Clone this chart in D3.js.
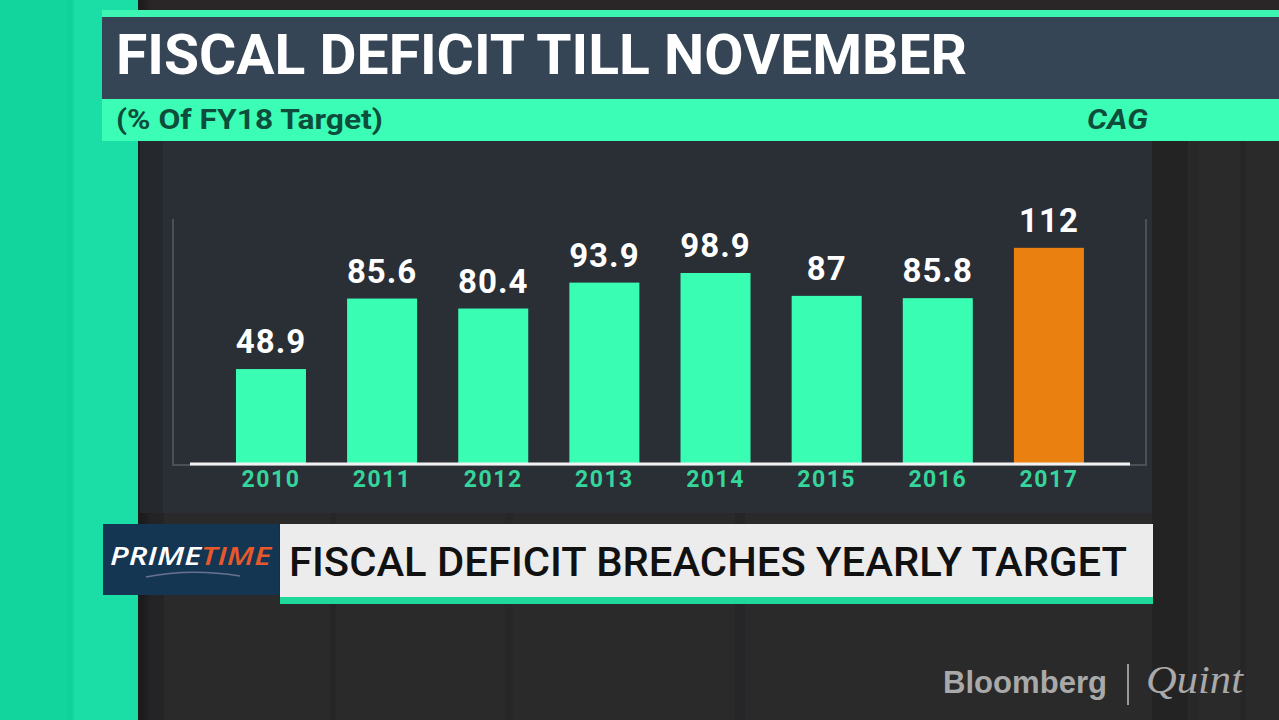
<!DOCTYPE html>
<html>
<head>
<meta charset="utf-8">
<script src="https://cdn.jsdelivr.net/npm/d3@7"></script>
<style>
  html, body { margin: 0; padding: 0; background: #2a2a2b; overflow: hidden; }
  svg { display: block; }
</style>
</head>
<body>
<div id="canvas"></div>
<script>
// chart data
let years = ["2010", "2011", "2012", "2013", "2014", "2015", "2016", "2017"];
let values = [48.9, 85.6, 80.4, 93.9, 98.9, 87, 85.8, 112];
let valueLabels = ["48.9", "85.6", "80.4", "93.9", "98.9", "87", "85.8", "112"];
let highlightYear = "2017";

let title = "FISCAL DEFICIT TILL NOVEMBER";
let subtitle = "(% Of FY18 Target)";
let source = "CAG";
let tickerText = "FISCAL DEFICIT BREACHES YEARLY TARGET";

const W = 1279, H = 720;
let svg = d3.select("#canvas").append("svg")
    .attr("width", W)
    .attr("height", H);

/* background: studio wall + green strip */
svg.append("rect").attr("width", W).attr("height", H).attr("fill", "#2a2a2b");

// faint vertical stripes of the wall
let stripes = [[140, 24, "#242427"], [330, 6, "#262628"], [505, 8, "#27272a"], [735, 10, "#262628"],
    [1152, 36, "#232324"], [1190, 8, "#282829"], [1240, 6, "#262627"]];
svg.selectAll("rect.stripe")
    .data(stripes)
    .join("rect")
    .attr("class", "stripe")
    .attr("x", d => d[0]).attr("y", 0)
    .attr("width", d => d[1]).attr("height", H)
    .attr("fill", d => d[2]);

// top strip above the title is a touch warmer
svg.append("rect").attr("x", 140).attr("y", 0).attr("width", W - 140).attr("height", 11).attr("fill", "#2a2526");

let defs = svg.append("defs");
let shade = defs.append("linearGradient").attr("id", "shade");
shade.append("stop").attr("offset", "0%").attr("stop-color", "#000").attr("stop-opacity", 0.35);
shade.append("stop").attr("offset", "100%").attr("stop-color", "#000").attr("stop-opacity", 0);

svg.append("rect").attr("x", 0).attr("y", 0).attr("width", 72).attr("height", H).attr("fill", "#12d59d");
svg.append("rect").attr("x", 72).attr("y", 0).attr("width", 66).attr("height", H).attr("fill", "#1bdea6");
svg.append("rect").attr("x", 66).attr("y", 0).attr("width", 8).attr("height", H).attr("fill", "#10cf97").attr("opacity", 0.6);
svg.append("rect").attr("x", 138).attr("y", 0).attr("width", 14).attr("height", H).attr("fill", "url(#shade)");

/* chart panel */
svg.append("rect").attr("x", 140).attr("y", 141).attr("width", 1012).attr("height", 372).attr("fill", "#2a2e35");
svg.append("rect").attr("x", 140).attr("y", 141).attr("width", 23).attr("height", 372).attr("fill", "#25282d");

/* title block */
svg.append("rect").attr("x", 102).attr("y", 10).attr("width", W - 102).attr("height", 8).attr("fill", "#3cf5b2");
svg.append("rect").attr("x", 102).attr("y", 17).attr("width", W - 102).attr("height", 82).attr("fill", "#354555");
svg.append("rect").attr("x", 102).attr("y", 99).attr("width", W - 102).attr("height", 42).attr("fill", "#3cfdb5");

svg.append("text")
    .attr("x", 116).attr("y", 74)
    .attr("font-family", "Roboto, 'Noto Sans', sans-serif")
    .attr("font-weight", 700)
    .attr("font-size", 55)
    .attr("fill", "#ffffff")
    .attr("textLength", 851)
    .attr("lengthAdjust", "spacingAndGlyphs")
    .text(title);

svg.append("text")
    .attr("x", 116).attr("y", 129)
    .attr("font-family", "Roboto, sans-serif")
    .attr("font-weight", 700)
    .attr("font-size", 28)
    .attr("fill", "#0e4d3b")
    .attr("textLength", 267)
    .attr("lengthAdjust", "spacingAndGlyphs")
    .text(subtitle);

svg.append("text")
    .attr("x", 1087).attr("y", 129)
    .attr("font-family", "Roboto, sans-serif")
    .attr("font-weight", 700)
    .attr("font-style", "italic")
    .attr("font-size", 27)
    .attr("fill", "#0e4d3b")
    .attr("textLength", 61)
    .attr("lengthAdjust", "spacingAndGlyphs")
    .text(source);

/* bar chart */
let x = d3.scaleBand()
    .domain(years)
    .range([215.4, 1104.5])
    .paddingInner(0.37)
    .paddingOuter(0.185);

let y = d3.scaleLinear()
    .domain([0, 127])
    .range([463, 219]);

let chart = svg.append("g");

// faint grey frame
chart.append("path")
    .attr("d", `M173,${y(127)}V${y(0) + 2}H1146V${y(127)}`)
    .attr("fill", "none")
    .attr("stroke", "#4a5058")
    .attr("stroke-width", 2);

chart.selectAll("rect.bar")
    .data(values)
    .join("rect")
    .attr("class", "bar")
    .attr("x", (d, i) => x(years[i]))
    .attr("y", d => y(d))
    .attr("width", x.bandwidth())
    .attr("height", d => y(0) - y(d))
    .attr("fill", (d, i) => years[i] === highlightYear ? "#ea800f" : "#3afdb4");

chart.selectAll("text.val")
    .data(values)
    .join("text")
    .attr("class", "val")
    .attr("x", (d, i) => x(years[i]) + x.bandwidth() / 2)
    .attr("y", d => y(d) - 16)
    .attr("text-anchor", "middle")
    .attr("font-family", "Roboto, sans-serif")
    .attr("font-weight", 700)
    .attr("font-size", 33)
    .attr("letter-spacing", 1)
    .attr("fill", "#ffffff")
    .text((d, i) => valueLabels[i]);

// white baseline + year labels via axisBottom
let xAxis = chart.append("g")
    .attr("transform", `translate(0,${y(0)})`)
    .call(d3.axisBottom(x).tickSize(0).tickPadding(8));
xAxis.select(".domain").remove();
xAxis.selectAll("text")
    .attr("font-family", "Roboto, sans-serif")
    .attr("font-weight", 700)
    .attr("font-size", 23)
    .attr("letter-spacing", 1.5)
    .attr("fill", "#35d59c");

chart.append("line")
    .attr("x1", 190).attr("x2", 1130)
    .attr("y1", y(0) + 1).attr("y2", y(0) + 1)
    .attr("stroke", "#f2f2f2")
    .attr("stroke-width", 3);

/* lower ticker */
svg.append("rect").attr("x", 103).attr("y", 524).attr("width", 176).attr("height", 71).attr("fill", "#143652");
svg.append("rect").attr("x", 280).attr("y", 524).attr("width", 873).attr("height", 74).attr("fill", "#ececec");
svg.append("rect").attr("x", 280).attr("y", 597).attr("width", 873).attr("height", 7).attr("fill", "#1ed99b");

let pt = svg.append("text")
    .attr("x", 110).attr("y", 565)
    .attr("font-family", "'Open Sans', Roboto, sans-serif")
    .attr("font-weight", 600)
    .attr("font-style", "italic")
    .attr("font-size", 25)
    .attr("textLength", 161)
    .attr("lengthAdjust", "spacingAndGlyphs");
pt.append("tspan").attr("fill", "#ffffff").text("PRIME");
pt.append("tspan").attr("fill", "#e8582b").text("TIME");

svg.append("path")
    .attr("d", "M146,577 Q190,568 240,576")
    .attr("fill", "none")
    .attr("stroke", "#7f7fa0")
    .attr("stroke-width", 1.5)
    .attr("opacity", 0.8);

svg.append("text")
    .attr("x", 289).attr("y", 576)
    .attr("font-family", "Roboto, sans-serif")
    .attr("font-weight", 500)
    .attr("font-size", 41)
    .attr("fill", "#111111")
    .attr("textLength", 838)
    .attr("lengthAdjust", "spacingAndGlyphs")
    .text(tickerText);

/* Bloomberg | Quint */
svg.append("text")
    .attr("x", 943).attr("y", 693)
    .attr("font-family", "'Liberation Sans', Arial, sans-serif")
    .attr("font-weight", 700)
    .attr("font-size", 32)
    .attr("fill", "#a9a9a9")
    .attr("textLength", 164)
    .attr("lengthAdjust", "spacingAndGlyphs")
    .text("Bloomberg");
svg.append("line")
    .attr("x1", 1128).attr("x2", 1128).attr("y1", 664).attr("y2", 705)
    .attr("stroke", "#9a9a9a").attr("stroke-width", 2);
svg.append("text")
    .attr("x", 1146).attr("y", 693)
    .attr("font-family", "'Liberation Serif', 'DejaVu Serif', serif")
    .attr("font-style", "italic")
    .attr("font-size", 40)
    .attr("fill", "#a9a9a9")
    .attr("textLength", 97)
    .attr("lengthAdjust", "spacingAndGlyphs")
    .text("Quint");
</script>
</body>
</html>
